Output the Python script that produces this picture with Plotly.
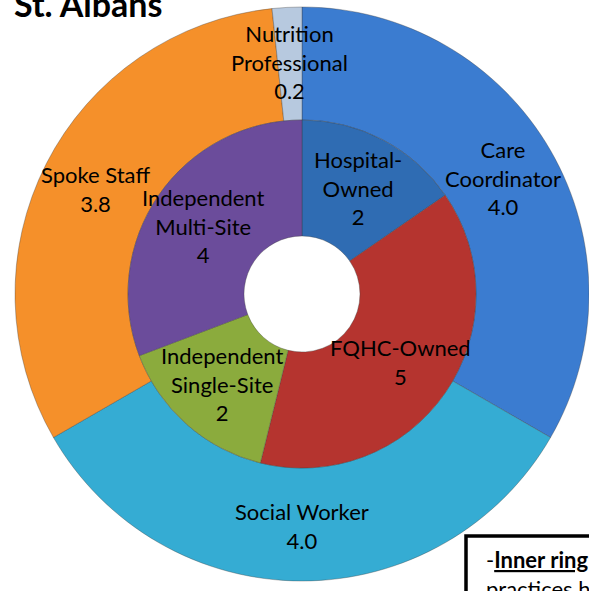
import math
import plotly.graph_objects as go

# outer ring: staff roles (clockwise from 12 o'clock)
outer_labels = ["Care<br>Coordinator", "Social Worker", "Spoke Staff", "Nutrition<br>Professional"]
outer_values = [4.0, 4.0, 3.8, 0.2]
outer_colors = ["#3b7cd0", "#35acd3", "#f5902a", "#b7c9df"]

# inner ring: practice types
inner_labels = ["Hospital-<br>Owned", "FQHC-Owned", "Independent<br>Single-Site", "Independent<br>Multi-Site"]
inner_values = [2, 5, 2, 4]
inner_colors = ["#2f6cb3", "#b5342f", "#8bab3d", "#6b4c9b"]

W, H = 589, 591
cx, cy = 302, 294          # ring centre in pixels
r_out, r_in, r_hole = 287, 174, 58
FONT = "Lato"


def dom(r):
    return dict(x=[max(0, (cx - r) / W), min(1, (cx + r) / W)],
                y=[1 - (cy + r) / H, 1 - (cy - r) / H])


def label_annotations(labels, values, radius, fmt):
    total = sum(values)
    acc = 0
    anns = []
    for lab, v in zip(labels, values):
        mid = (acc + v / 2) / total * 2 * math.pi
        acc += v
        px = cx + radius * math.sin(mid)
        py = cy - radius * math.cos(mid)
        anns.append(dict(
            x=px / W, y=1 - py / H, xref="paper", yref="paper",
            xanchor="center", yanchor="middle",
            text=lab + "<br>" + fmt.format(v), showarrow=False,
            font=dict(family=FONT, size=22, color="black"),
        ))
    return anns


fig = go.Figure()
fig.add_trace(go.Pie(
    values=outer_values, labels=[l.replace("<br>", " ") for l in outer_labels],
    hole=r_in / r_out, sort=False, direction="clockwise", rotation=0,
    marker=dict(colors=outer_colors, line=dict(color="rgba(60,60,60,0.35)", width=1)),
    textinfo="none", domain=dom(r_out), showlegend=False,
))
fig.add_trace(go.Pie(
    values=inner_values, labels=[l.replace("<br>", " ") for l in inner_labels],
    hole=r_hole / r_in, sort=False, direction="clockwise", rotation=0,
    marker=dict(colors=inner_colors, line=dict(color="rgba(60,60,60,0.35)", width=1)),
    textinfo="none", domain=dom(r_in), showlegend=False,
))

anns = label_annotations(outer_labels, outer_values, 232, "{:.1f}")
anns += label_annotations(inner_labels, inner_values, 120, "{:.0f}")

# title, partly cut off at the top
anns.append(dict(
    x=12 / W, y=1 - 4 / H, xref="paper", yref="paper", xanchor="left", yanchor="middle",
    text="<b>St. Albans</b>", showarrow=False,
    font=dict(family=FONT, size=34, color="black"),
))
# note box in the bottom right corner (cut off by the edge)
anns.append(dict(
    x=484 / W, y=1 - 544 / H, xref="paper", yref="paper", xanchor="left", yanchor="top",
    text="-<b><u>Inner ring</u></b>: number of<br>practices hosting each type",
    showarrow=False, align="left",
    font=dict(family=FONT, size=22, color="black"),
))

fig.update_layout(
    width=W, height=H,
    margin=dict(l=0, r=0, t=0, b=0),
    paper_bgcolor="white", plot_bgcolor="white",
    annotations=anns,
    shapes=[dict(
        type="rect", xref="paper", yref="paper",
        x0=466 / W, x1=1.2, y0=-0.2, y1=1 - 536 / H,
        line=dict(color="black", width=3.5), fillcolor="white", layer="above",
    )],
)

fig.write_html("out.html", config={"displayModeBar": False},
               post_script="document.body.style.margin='0';")
